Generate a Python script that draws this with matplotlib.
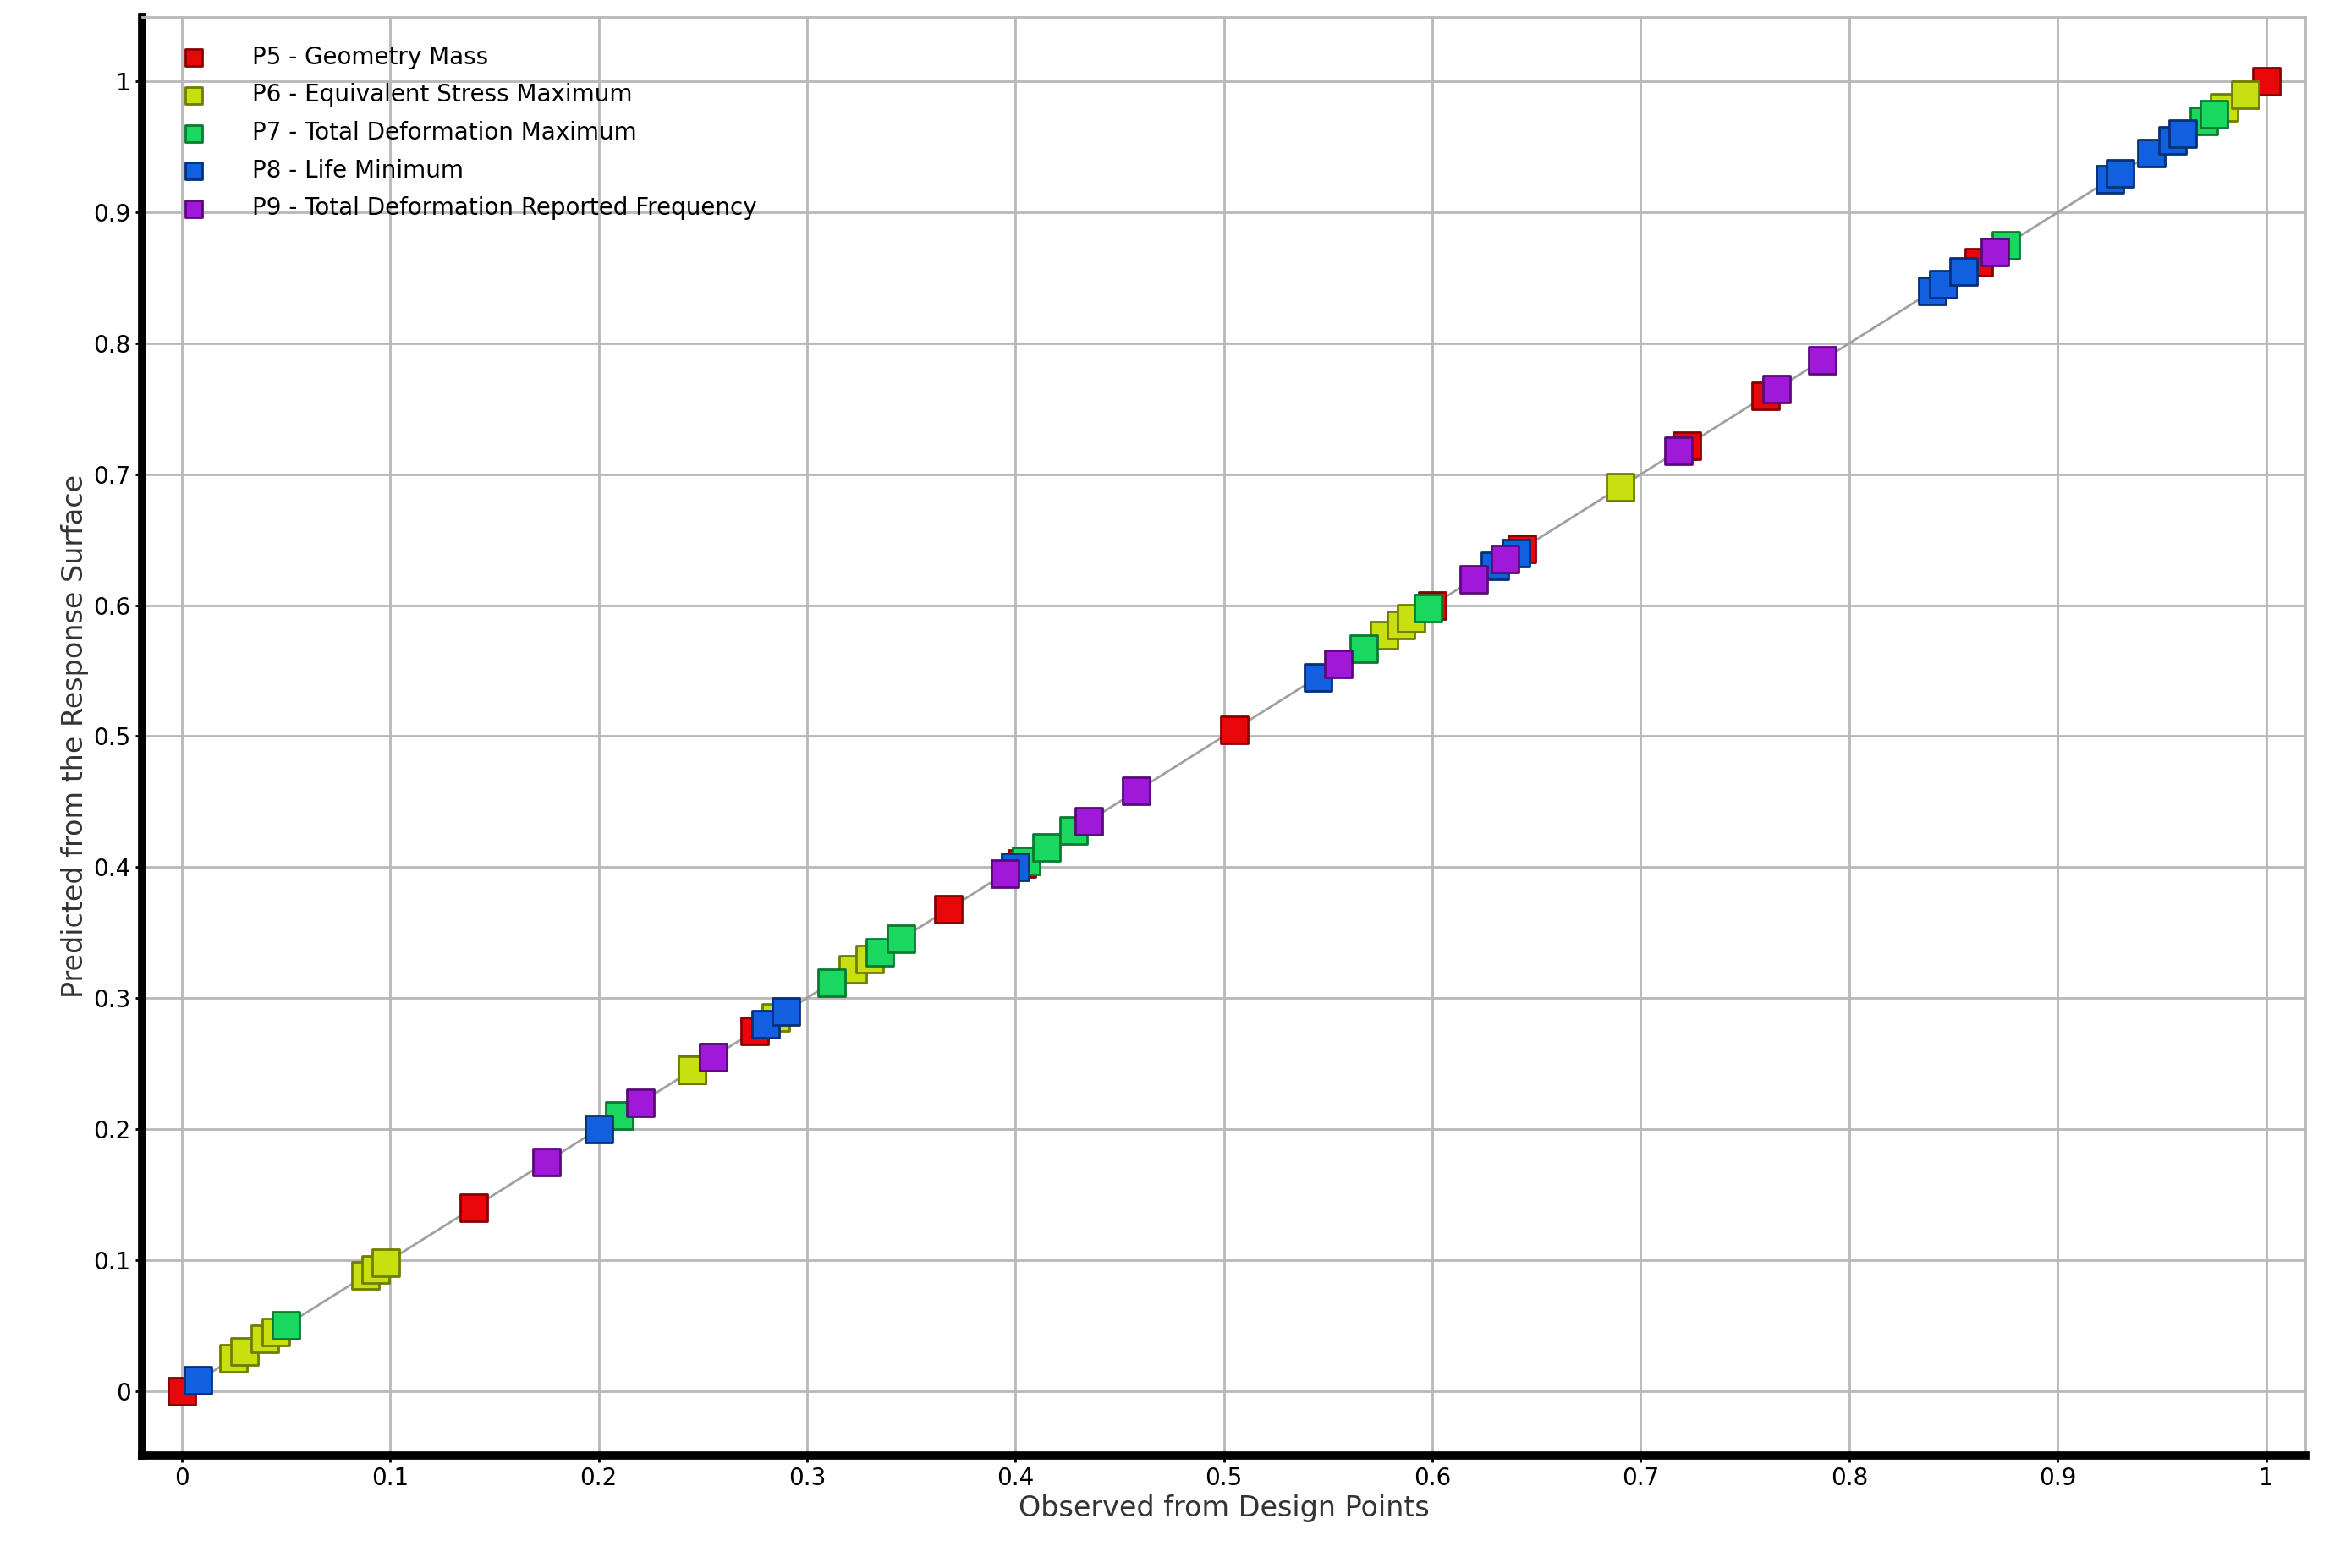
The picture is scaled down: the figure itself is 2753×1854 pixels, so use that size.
import matplotlib
matplotlib.use("Agg")
import matplotlib.pyplot as plt
import numpy as np

p5 = [0, 0.14, 0.245, 0.275, 0.368, 0.403, 0.505, 0.6, 0.643, 0.722, 0.76, 0.862, 1.0]
p6 = [0.025, 0.03, 0.04, 0.045, 0.088, 0.093, 0.098, 0.245, 0.255, 0.285, 0.322, 0.33,
      0.577, 0.585, 0.59, 0.69, 0.98, 0.99]
p7 = [0.05, 0.21, 0.312, 0.335, 0.345, 0.405, 0.415, 0.428, 0.567, 0.598, 0.875, 0.97, 0.975]
p8 = [0.008, 0.2, 0.28, 0.29, 0.4, 0.545, 0.63, 0.64, 0.84, 0.845, 0.855, 0.925, 0.93,
      0.945, 0.955, 0.96]
p9 = [0.175, 0.22, 0.255, 0.395, 0.435, 0.458, 0.555, 0.62, 0.635, 0.718, 0.765, 0.787, 0.87]

series = [
    ("P5 - Geometry Mass", p5, "#e8080c", "#8a0000"),
    ("P6 - Equivalent Stress Maximum", p6, "#c8e010", "#6f7d00"),
    ("P7 - Total Deformation Maximum", p7, "#18d860", "#0a7a30"),
    ("P8 - Life Minimum", p8, "#1060e0", "#06307a"),
    ("P9 - Total Deformation Reported Frequency", p9, "#a018d8", "#5a0a7a"),
]

fig = plt.figure(figsize=(27.53, 18.54), dpi=100)
ax = fig.add_axes([0.061, 0.072, 0.929, 0.917])
ax.plot([0, 1], [0, 1], color="#a0a0a0", lw=2, zorder=2)
for name, vals, fc, ec in series:
    v = np.array(vals)
    ax.scatter(v, v, marker="s", s=520, c=fc, edgecolors=ec, linewidths=2, label=name, zorder=3)

ax.set_xlim(-0.019, 1.019)
ax.set_ylim(-0.049, 1.049)
ticks = np.round(np.arange(0, 1.01, 0.1), 1)
labels = ["0"] + [f"{t:g}" for t in ticks[1:-1]] + ["1"]
ax.set_xticks(ticks)
ax.set_xticklabels(labels)
ax.set_yticks(ticks)
ax.set_yticklabels(labels)
ax.grid(True, color="#b8b8b8", lw=2)
ax.set_axisbelow(True)
for s in ["top", "right"]:
    ax.spines[s].set_color("#b8b8b8")
    ax.spines[s].set_linewidth(2)
for s in ["left", "bottom"]:
    ax.spines[s].set_color("black")
    ax.spines[s].set_linewidth(7)
ax.tick_params(labelsize=20, length=6, width=2)
ax.set_xlabel("Observed from Design Points", fontsize=24, color="#333333")
ax.set_ylabel("Predicted from the Response Surface", fontsize=24, color="#333333")
leg = ax.legend(loc="upper left", frameon=False, fontsize=20, markerscale=0.6,
                handletextpad=1.5, labelspacing=0.6, borderaxespad=0.8)
fig.savefig("out.png", dpi=100)
